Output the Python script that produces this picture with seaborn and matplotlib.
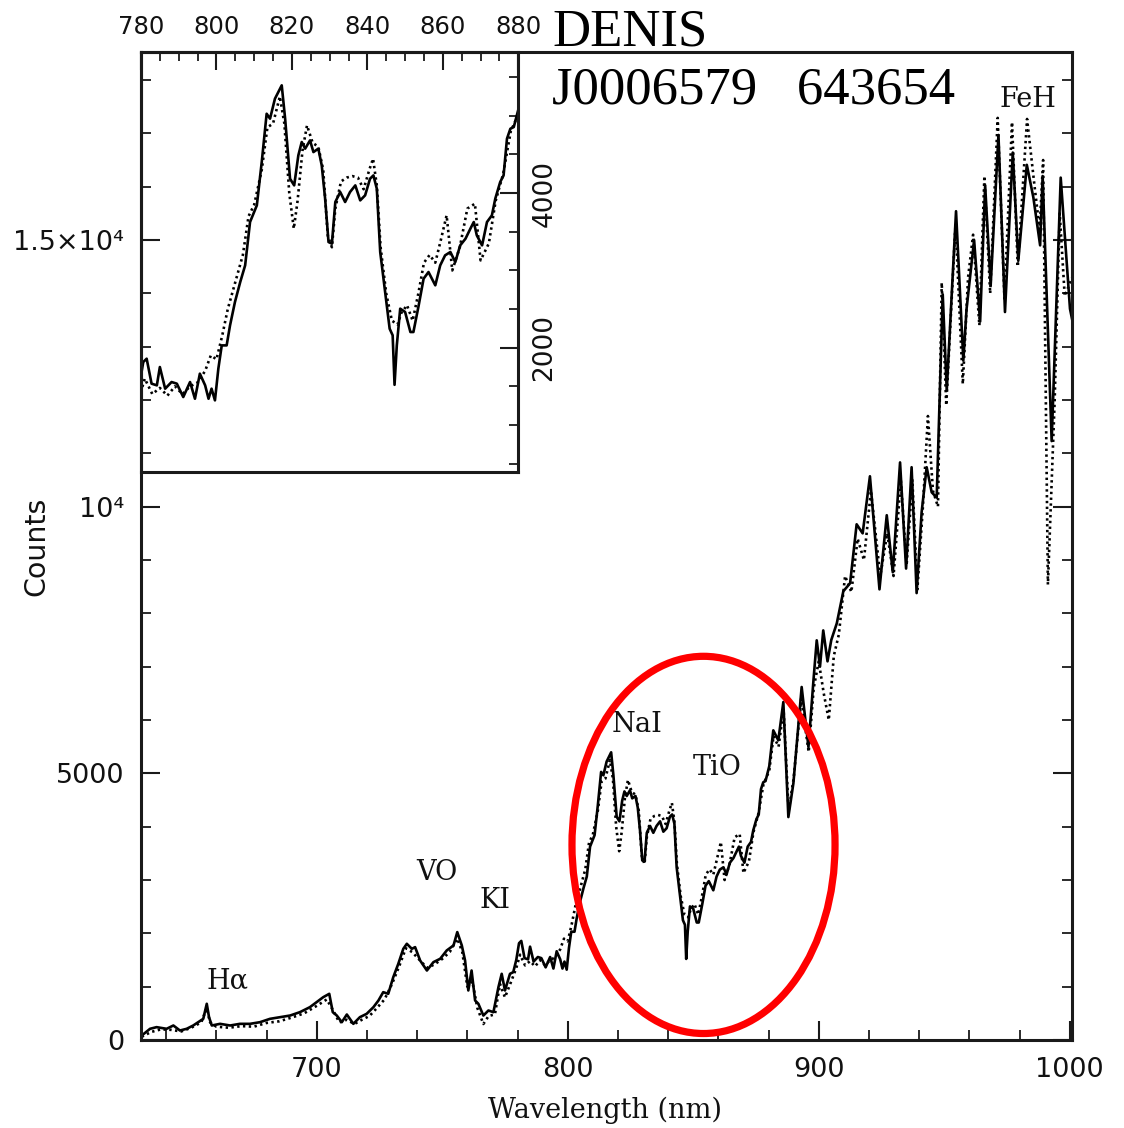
import matplotlib
matplotlib.use("Agg")
import matplotlib.pyplot as plt
from matplotlib.patches import Ellipse
from matplotlib.ticker import MultipleLocator, FixedLocator, FixedFormatter
import pandas as pd
import seaborn as sns

# Observed spectrum (solid line)
obs_wavelength = [
    630.3, 633.6, 636.2, 640.2, 642.9, 645.5, 648.2, 650.8, 652.8, 654.8,
    656.2, 657.1, 658.2, 661.5, 665.5, 669.4, 673.4, 677.4, 681.4, 685.4,
    689.4, 693.3, 697.3, 700.0, 702.6, 705.0, 706.4, 708.0, 710.0, 712.0,
    714.6, 717.2, 719.9, 722.6, 724.6, 726.5, 728.5, 730.5, 732.5, 734.5,
    735.9, 737.9, 739.2, 741.2, 743.9, 746.5, 749.2, 751.8, 754.5, 756.0,
    757.8, 759.1, 760.4, 761.7, 763.1, 764.4, 766.4, 768.4, 770.4, 772.4,
    773.7, 775.0, 777.0, 778.3, 779.5,
    780.6, 781.5, 782.8, 784.2, 785.0, 786.4, 788.1, 789.5, 791.2, 793.0,
    794.3, 795.6, 797.0, 797.9, 798.7, 799.6, 800.5, 801.4, 802.7, 803.6,
    804.9, 806.3, 807.6, 808.9, 810.7, 812.0, 813.3, 814.2, 815.5, 817.3,
    818.2, 819.5, 820.6, 821.7, 822.6, 823.5, 824.8, 825.7, 827.0, 827.9,
    828.8, 829.7, 830.6, 831.5, 832.8, 834.1, 835.4, 836.8, 838.1, 839.4,
    840.7, 841.6, 842.5, 843.4, 844.7, 845.9, 846.7, 847.2, 847.8, 848.7,
    850.0, 851.4, 852.2, 853.6, 854.9, 856.2, 858.0, 859.3, 860.6, 862.0,
    863.3, 864.6, 866.0, 867.3, 868.2, 869.0, 870.4, 871.7, 873.0, 873.9,
    875.2, 876.1, 877.0, 877.9, 878.8, 879.6, 880.3,
    881.9, 883.9, 885.9, 887.9, 889.9, 893.2, 895.9, 897.9, 899.2, 900.5,
    901.8, 903.5, 905.0, 907.2, 909.8, 912.5, 915.1, 917.5, 920.4, 924.2,
    927.1, 929.5, 932.4, 934.8, 937.0, 939.0, 941.0, 943.0, 945.0, 947.0,
    949.4, 951.0, 954.7, 957.6, 958.9, 961.9, 964.3, 966.3, 968.5, 971.6,
    974.2, 977.3, 979.5, 982.9, 985.5, 988.2, 989.2, 992.8, 996.4, 1000.1,
    1001.0,
]
obs_counts = [
    84, 210, 241, 210, 272, 178, 210, 272, 334, 397,
    679, 428, 272, 303, 272, 303, 303, 334, 397, 428,
    459, 522, 616, 710, 803, 866, 522, 459, 334, 478,
    303, 428, 491, 616, 741, 897, 866, 1178, 1428, 1710,
    1804, 1710, 1741, 1491, 1303, 1460, 1523, 1679, 1773, 2023,
    1773, 1491, 929, 1303, 741, 679, 459, 553, 522, 991,
    1241, 929, 1241, 1272, 1500,
    1815, 1858, 1535, 1513, 1750, 1470, 1556, 1535, 1362, 1556,
    1340, 1664, 1513, 1340, 1470, 1319, 1729, 2030, 2030, 2289,
    2591, 2850, 3065, 3626, 3841, 4402, 5027, 4963, 5221, 5394,
    4963, 4186, 4100, 4488, 4661, 4575, 4682, 4531, 4575, 4359,
    3928, 3367, 3346, 3885, 4014, 3885, 4014, 4100, 3906, 3971,
    4186, 4229, 4057, 3238, 2720, 2246, 2160, 1520, 2030, 2505,
    2462, 2203, 2203, 2548, 2893, 2979, 2807, 3065, 3195, 3238,
    3108, 3324, 3410, 3540, 3626, 3454, 3324, 3626, 3712, 3928,
    4143, 4229, 4704, 4833, 4855, 5006, 5135,
    5806, 5619, 6337, 4180, 4812, 6619, 5493, 6744, 7494, 7000,
    7680, 7100, 7500, 7813, 8414, 8565, 9670, 9500, 10570, 8450,
    9840, 8770, 10830, 8840, 10740, 8380, 9900, 10740, 10270, 10170,
    13980, 12180, 15540, 12740, 13710, 15000, 13470, 16020, 14150, 16970,
    13650, 16640, 14610, 16410, 15800, 14900, 16200, 11230, 16170, 13710,
    13500,
]

# Comparison template spectrum (dotted line)
model_wavelength = [
    630.3, 634.0, 638.0, 642.0, 646.0, 650.0, 654.0, 656.2, 657.5, 660.0,
    665.0, 670.0, 675.0, 680.0, 685.0, 690.0, 695.0, 700.0, 704.0, 706.5,
    709.0, 712.0, 715.0, 718.0, 721.0, 724.0, 727.0, 730.0, 733.0, 735.5,
    738.0, 741.0, 744.0, 747.0, 750.0, 753.0, 756.0, 758.0, 760.0, 762.0,
    764.0, 766.4, 768.5, 771.0, 773.0, 775.0, 777.5, 779.5,
    781.0, 783.0, 785.0, 787.0, 789.0, 791.0, 793.0, 795.0, 797.0, 798.5,
    800.0, 801.5, 803.0, 805.0, 807.0, 808.5, 810.0, 812.0, 813.5, 815.0,
    816.8, 818.0, 819.3, 820.5, 821.5, 822.8, 824.0, 825.5, 827.0, 828.3,
    829.5, 830.6, 831.5, 833.0, 834.5, 836.0, 837.5, 839.0, 840.5, 841.5,
    842.5, 843.5, 845.0, 846.5, 848.0, 849.0, 850.5, 852.0, 853.5, 855.0,
    856.5, 858.0, 859.5, 861.0, 862.5, 864.5, 866.5, 868.5, 870.0, 872.2,
    874.0, 876.0, 878.0, 880.3,
    882.0, 884.0, 886.0, 888.0, 890.0, 893.0, 896.0, 898.0, 900.0, 902.0,
    904.0, 906.0, 908.0, 910.5, 913.0, 915.5, 918.0, 920.8, 924.5, 927.3,
    929.8, 932.7, 935.0, 937.3, 939.3, 941.5, 943.5, 945.5, 947.5, 949.0,
    950.8, 954.5, 957.4, 959.5, 961.5, 964.0, 966.0, 968.3, 971.3, 974.0,
    977.0, 979.3, 983.0, 986.0, 988.0, 989.4, 991.3, 994.0, 996.0, 998.0,
    1001.0,
]
model_counts = [
    60, 150, 200, 190, 160, 230, 330, 600, 330, 250,
    230, 260, 250, 320, 350, 420, 500, 640, 760, 560,
    330, 380, 300, 380, 450, 600, 760, 1050, 1400, 1720,
    1650, 1500, 1350, 1420, 1520, 1650, 1900, 1650, 1000, 1100,
    600, 300, 450, 480, 1050, 800, 1100, 1350,
    1600, 1400, 1480, 1380, 1500, 1400, 1500, 1550, 1700, 1900,
    1850, 2150, 2500, 2850, 3200, 3700, 3850, 4300, 4850, 4900,
    5250, 4900, 4000, 3540, 3900, 4550, 4876, 4650, 4600, 4300,
    3450, 3300, 3800, 4150, 4200, 4220, 4200, 4050, 4300, 4445,
    4100, 3300, 2700, 2350, 2300, 2450, 2550, 2350, 2700, 3100,
    3200, 3100, 3400, 3712, 3000, 3300, 3800, 3863, 3130, 3350,
    3900, 4250, 4800, 5050,
    5700, 5500, 6200, 4300, 4900, 6400, 5400, 6600, 7100, 6500,
    6000, 7200, 7600, 8700, 8400, 9400, 9000, 10300, 8700, 9500,
    8700, 10500, 8900, 10500, 8450, 10000, 11700, 10300, 10000, 14200,
    11900, 15300, 12300, 14300, 15100, 13400, 16200, 14000, 17290, 13900,
    17210, 14500, 17270, 16000, 15200, 16500, 8540, 12000, 15500, 13950,
    14300,
]

# Spectral features and where their labels sit (wavelength, counts at baseline)
feature_names = ["Hα", "VO", "KI", "NaI", "TiO", "FeH"]
feature_label_xy = [(664.5, 966), (747.7, 2992), (771.0, 2467),
                    (827.8, 5769), (859.7, 4962), (983.2, 17494)]

main_yticks = [0, 5000, 10000, 15000]
main_yticklabels = ["0", "5000", "10⁴", "1.5×10⁴"]
main_xticks = [700, 800, 900, 1000]
inset_xticks = [780, 800, 820, 840, 860, 880]
inset_yticks = [2000, 4000]

obs = pd.DataFrame({"wavelength": obs_wavelength, "counts": obs_counts})
model = pd.DataFrame({"wavelength": model_wavelength, "counts": model_counts})

sns.set_style("white")
ink = "#111111"
plt.rcParams.update({
    "font.family": ["DejaVu Sans"],
    "text.color": ink,
    "axes.labelcolor": ink,
    "xtick.color": ink,
    "ytick.color": ink,
    "xtick.labelcolor": ink,
    "ytick.labelcolor": ink,
})

W, H = 1124, 1128
fig = plt.figure(figsize=(W / 100, H / 100), dpi=100)

ax_left, ax_right, ax_top, ax_bottom = 141, 1072, 51.5, 1040
ax = fig.add_axes([ax_left / W, 1 - ax_bottom / H,
                   (ax_right - ax_left) / W, (ax_bottom - ax_top) / H])
ax.set_facecolor("white")

SOLID = dict(color="black", linewidth=1.9)
DOTTED = dict(color="black", linewidth=1.9, linestyle=(0, (0.9, 1.3)))


def draw_spectra(target):
    sns.lineplot(data=model, x="wavelength", y="counts", ax=target,
                 errorbar=None, **DOTTED)
    sns.lineplot(data=obs, x="wavelength", y="counts", ax=target,
                 errorbar=None, **SOLID)


draw_spectra(ax)
ax.set_xlim(630, 1000.9)
ax.set_ylim(0, 18535)

spine_color = "#1a1a1a"
for s in ax.spines.values():
    s.set_linewidth(2.2)
    s.set_color(spine_color)
    s.set_visible(True)

ax.xaxis.set_major_locator(FixedLocator(main_xticks))
ax.xaxis.set_minor_locator(MultipleLocator(20))
ax.yaxis.set_major_locator(FixedLocator(main_yticks))
ax.yaxis.set_major_formatter(FixedFormatter(main_yticklabels))
ax.yaxis.set_minor_locator(MultipleLocator(1000))
ax.tick_params(which="both", direction="in", top=False, right=True,
               bottom=True, left=True, color=spine_color)
ax.tick_params(which="major", length=13.5, width=1.5, labelsize=19.5, pad=12)
ax.tick_params(which="minor", length=7, width=1.3)

ax.set_xlabel("Wavelength (nm)", family="DejaVu Serif", fontsize=19.5)
ax.xaxis.set_label_coords((605 - ax_left) / (ax_right - ax_left),
                          (ax_bottom - 1110) / (ax_bottom - ax_top))
ax.xaxis.label.set_va("center")
ax.set_ylabel("Counts", fontsize=20.5)
ax.yaxis.set_label_coords((36.7 - ax_left) / (ax_right - ax_left),
                          (ax_bottom - 546) / (ax_bottom - ax_top))
ax.yaxis.label.set_va("center")
ax.yaxis.label.set_ha("center")

for name, (x, y) in zip(feature_names, feature_label_xy):
    ax.text(x, y, name, family="DejaVu Serif", fontsize=19.5,
            ha="center", va="baseline", color=ink)

# Highlight around the NaI / TiO region
ax.add_patch(Ellipse((854.1, 3658), width=104.8, height=7073, fill=False,
                     edgecolor="#ff0000", linewidth=5.2, zorder=10))

# Zoomed inset, sharing the top-left corner of the main frame
in_left, in_right, in_top, in_bottom = 141, 518.3, 51.5, 471.7
axins = fig.add_axes([in_left / W, 1 - in_bottom / H,
                      (in_right - in_left) / W, (in_bottom - in_top) / H])
axins.patch.set_alpha(0)
draw_spectra(axins)
axins.set_xlim(780, 880)
axins.set_ylim(396, 5832)
axins.set_xlabel("")
axins.set_ylabel("")
for s in axins.spines.values():
    s.set_linewidth(2.2)
    s.set_color(spine_color)
axins.xaxis.tick_top()
axins.yaxis.tick_right()
axins.xaxis.set_major_locator(FixedLocator(inset_xticks))
axins.xaxis.set_minor_locator(MultipleLocator(5))
axins.yaxis.set_major_locator(FixedLocator(inset_yticks))
axins.yaxis.set_minor_locator(MultipleLocator(500))
axins.tick_params(which="both", direction="in", color=spine_color,
                  bottom=False, left=False, labelbottom=False, labelleft=False)
axins.tick_params(which="major", length=13, width=1.5)
axins.tick_params(which="minor", length=6.5, width=1.3)
axins.tick_params(axis="x", which="major", labelsize=17.5, pad=9,
                  labeltop=True)
axins.tick_params(axis="y", which="major", labelsize=19, pad=9.5,
                  labelright=True, labelrotation=90)
for lbl in axins.get_yticklabels():
    lbl.set_va("center")

# Object designation
fig.text(552.5 / W, 1 - 45 / H, "DENIS", family="Liberation Serif",
         fontsize=38, ha="left", va="baseline", color="black")
fig.text(552.5 / W, 1 - 103.3 / H, "J0006579   643654",
         family="Liberation Serif", fontsize=38, ha="left", va="baseline",
         color="black")

fig.savefig("out.png", dpi=100)
